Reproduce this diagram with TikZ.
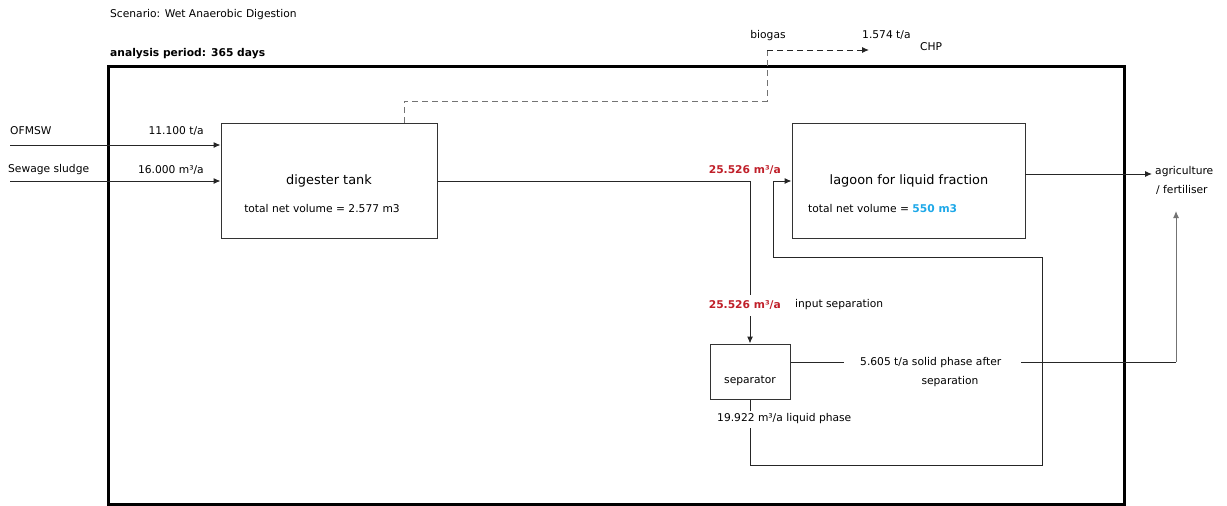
\documentclass[tikz,border=0pt]{standalone}
\usepackage{fontspec}
\setmainfont{DejaVu Sans}
\usetikzlibrary{arrows.meta}
\definecolor{valred}{HTML}{C0202A}
\definecolor{valblue}{HTML}{1EA8E8}
\begin{document}
\begin{tikzpicture}[x=1pt,y=-1pt,
  font=\fontsize{10.7}{12}\selectfont,
  box/.style={draw=black!80, line width=1pt, inner sep=0pt},
  flow/.style={draw=black!85, line width=1pt},
  tip/.style={-{Latex[length=7pt,width=6pt]}},
  gas/.style={flow, dashed, dash pattern=on 6pt off 4pt},
  txt/.style={inner sep=0pt},
  big/.style={txt, font=\fontsize{12.9}{14}\selectfont}
]
\useasboundingbox (0,0) rectangle (1227,506);

% titles
\node[txt, anchor=west] (scen) at (110,15) {Scenario: Wet Anaerobic Digestion};
\node[txt, anchor=west] (period) at (110,54) {\textbf{analysis period: 365 days}};

% frame
\draw[line width=3pt] (108,504) rectangle (1124,66);

% boxes
\node[box, minimum width=216pt, minimum height=115pt] (dig) at (329,180.5) {};
\node[box, minimum width=233pt, minimum height=115pt] (lag) at (908.5,180.5) {};
\node[box, minimum width=80pt, minimum height=55pt] (sep) at (750,371.5) {};

\node[big] (digt) at (329,181) {digester tank};
\node[txt] (digv) at (322,209) {total net volume = 2.577 m3};
\node[big] (lagt) at (909,181) {lagoon for liquid fraction};
\node[txt, anchor=west] (lagv) at (808,209) {total net volume = \textcolor{valblue}{\textbf{550 m3}}};
\node[txt] (sept) at (750,381) {separator};

% inputs
\node[txt, anchor=west] (ofl) at (10,131) {OFMSW};
\node[txt, anchor=east] (ofv) at (204,131) {11.100 t/a};
\node[txt, anchor=west] (ssl) at (8,170) {Sewage sludge};
\node[txt, anchor=east] (ssv) at (204,170) {16.000 m³/a};
\coordinate (o0) at (10,145);
\coordinate (s0) at (10,181);
\draw[flow, tip] (o0) -- (o0 -| dig.west);
\draw[flow, tip] (s0) -- (s0 -| dig.west);

% biogas
\coordinate (b0) at (404,123);
\coordinate (b1) at (404,101);
\coordinate (b2) at (767,101);
\coordinate (b3) at (767,50);
\coordinate (b4) at (869,50);
\draw[gas, draw=black!55] (b0) -- (b1) -- (b2) -- (b3);
\draw[gas, tip] (b3) -- (b4);
\node[txt] (bgl) at (768,36) {biogas};
\node[txt, anchor=west] (bgv) at (862,35) {1.574 t/a};
\node[txt, anchor=west] (chp) at (920,47) {CHP};

% digester -> separator
\coordinate (d1) at (750,181);
\coordinate (d2) at (750,295);
\coordinate (d3) at (750,316);
\draw[flow] (dig.east |- d1) -- (d1) -- (d2);
\draw[flow, tip] (d3) -- (sep.north);
\node[txt, anchor=east, text=valred] (inv) at (781,305) {\textbf{25.526 m³/a}};
\node[txt, anchor=west] (inl) at (795,305) {input separation};

% separator liquid -> lagoon
\coordinate (l1) at (750,411);
\coordinate (l2) at (750,428);
\coordinate (l3) at (750,465);
\coordinate (l4) at (1042,465);
\coordinate (l5) at (1042,257);
\coordinate (l6) at (773,257);
\coordinate (l7) at (773,181);
\draw[flow] (sep.south) -- (l1);
\draw[flow, tip] (l2) -- (l3) -- (l4) -- (l5) -- (l6) -- (l7) -- (lag.west |- l7);
\node[txt, anchor=west] (liq) at (717,419) {19.922 m³/a liquid phase};
\node[txt, anchor=east, text=valred] (lagin) at (781,170) {\textbf{25.526 m³/a}};

% lagoon -> agriculture
\node[txt, anchor=west] (agr1) at (1155,172) {agriculture};
\node[txt, anchor=west] (agr2) at (1156,190) {/ fertiliser};
\coordinate (a0) at (1025,174);
\coordinate (a1) at (1152,174);
\draw[flow, tip] (a0) -- (a1);

% solid phase
\coordinate (p0) at (791,362);
\coordinate (p1) at (844,362);
\coordinate (p2) at (1021,362);
\coordinate (p3) at (1176,362);
\coordinate (p4) at (1176,211);
\draw[flow] (p0) -- (p1);
\draw[flow] (p2) -- (p3);
\draw[flow, draw=black!55, tip] (p3) -- (p4);
\node[txt, anchor=west] (sol1) at (860,363) {5.605 t/a solid phase after};
\node[txt] (sol2) at (950,382) {separation};
\end{tikzpicture}
\end{document}
